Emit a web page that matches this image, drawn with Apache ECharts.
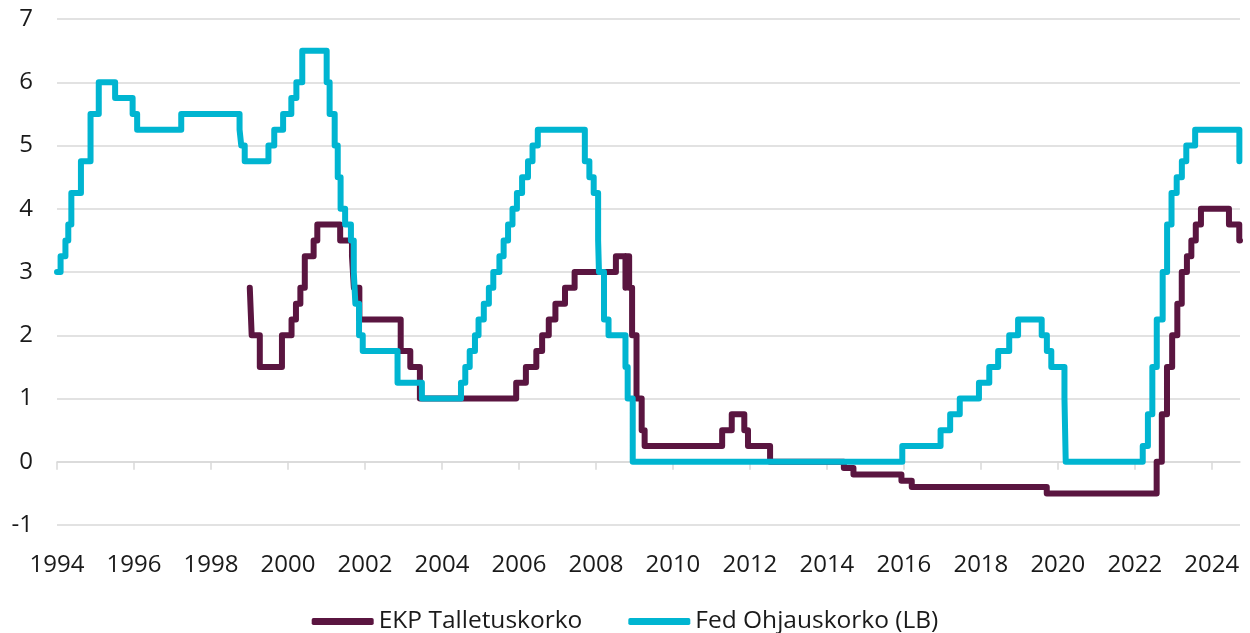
<!DOCTYPE html>
<html lang="fi">
<head>
    <meta charset="UTF-8">
    <title>EKP ja Fed korot</title>
    <script src="https://cdn.jsdelivr.net/npm/echarts@6/dist/echarts.min.js"></script>
    <style>
        html, body { margin: 0; padding: 0; background: #fff; }
        #main { width: 1250px; height: 633px; }
    </style>
</head>
<body>
<div id="main"></div>
<script type="text/javascript">
    // EKP talletuskorko: muutospäivät ja uusi taso
    const ecbDates = ['1999-01-04', '1999-01-22', '1999-04-09', '1999-11-05', '2000-02-04', '2000-03-17',
        '2000-04-28', '2000-06-09', '2000-09-01', '2000-10-06', '2001-05-11', '2001-08-31', '2001-09-18',
        '2001-11-09', '2002-12-06', '2003-03-07', '2003-06-06', '2005-12-06', '2006-03-08', '2006-06-15',
        '2006-08-09', '2006-10-11', '2006-12-13', '2007-03-14', '2007-06-13', '2008-07-09', '2008-10-08',
        '2008-10-09', '2008-11-12', '2008-12-10', '2009-01-21', '2009-03-11', '2009-04-08', '2011-04-13',
        '2011-07-13', '2011-11-09', '2011-12-14', '2012-07-11', '2014-06-11', '2014-09-10', '2015-12-09',
        '2016-03-16', '2019-09-18', '2022-07-27', '2022-09-14', '2022-11-02', '2022-12-21', '2023-02-08',
        '2023-03-22', '2023-05-10', '2023-06-21', '2023-08-02', '2023-09-20', '2024-06-12', '2024-09-18',
        '2024-09-25'];
    const ecbRates = [2.75, 2.00, 1.50, 2.00, 2.25, 2.50,
        2.75, 3.25, 3.50, 3.75, 3.50, 3.25, 2.75,
        2.25, 1.75, 1.50, 1.00, 1.25, 1.50, 1.75,
        2.00, 2.25, 2.50, 2.75, 3.00, 3.25, 2.75,
        3.25, 2.75, 2.00, 1.00, 0.50, 0.25, 0.50,
        0.75, 0.50, 0.25, 0.00, -0.10, -0.20, -0.30,
        -0.40, -0.50, 0.00, 0.75, 1.50, 2.00, 2.50,
        3.00, 3.25, 3.50, 3.75, 4.00, 3.75, 3.50,
        3.50];

    // Fed ohjauskorko (alaraja)
    const fedDates = ['1994-01-01', '1994-02-04', '1994-03-22', '1994-04-18', '1994-05-17', '1994-08-16',
        '1994-11-15', '1995-02-01', '1995-07-06', '1995-12-19', '1996-01-31', '1997-03-25', '1998-09-29',
        '1998-10-15', '1998-11-17', '1999-06-30', '1999-08-24', '1999-11-16', '2000-02-02', '2000-03-21',
        '2000-05-16', '2001-01-03', '2001-01-31', '2001-03-20', '2001-04-18', '2001-05-15', '2001-06-27',
        '2001-08-21', '2001-09-17', '2001-10-02', '2001-11-06', '2001-12-11', '2002-11-06', '2003-06-25',
        '2004-06-30', '2004-08-10', '2004-09-21', '2004-11-10', '2004-12-14', '2005-02-02', '2005-03-22',
        '2005-05-03', '2005-06-30', '2005-08-09', '2005-09-20', '2005-11-01', '2005-12-13', '2006-01-31',
        '2006-03-28', '2006-05-10', '2006-06-29', '2007-09-18', '2007-10-31', '2007-12-11', '2008-01-22',
        '2008-01-30', '2008-03-18', '2008-04-30', '2008-10-08', '2008-10-29', '2008-12-16', '2015-12-17',
        '2016-12-15', '2017-03-16', '2017-06-15', '2017-12-14', '2018-03-22', '2018-06-14', '2018-09-27',
        '2018-12-20', '2019-08-01', '2019-09-19', '2019-10-31', '2020-03-04', '2020-03-16', '2022-03-17',
        '2022-05-05', '2022-06-16', '2022-07-28', '2022-09-22', '2022-11-03', '2022-12-15', '2023-02-02',
        '2023-03-23', '2023-05-04', '2023-07-27', '2024-09-19', '2024-09-25'];
    const fedRates = [3.00, 3.25, 3.50, 3.75, 4.25, 4.75,
        5.50, 6.00, 5.75, 5.50, 5.25, 5.50, 5.25,
        5.00, 4.75, 5.00, 5.25, 5.50, 5.75, 6.00,
        6.50, 6.00, 5.50, 5.00, 4.50, 4.00, 3.75,
        3.50, 3.00, 2.50, 2.00, 1.75, 1.25, 1.00,
        1.25, 1.50, 1.75, 2.00, 2.25, 2.50, 2.75,
        3.00, 3.25, 3.50, 3.75, 4.00, 4.25, 4.50,
        4.75, 5.00, 5.25, 4.75, 4.50, 4.25, 3.50,
        3.00, 2.25, 2.00, 1.50, 1.00, 0.00, 0.25,
        0.50, 0.75, 1.00, 1.25, 1.50, 1.75, 2.00,
        2.25, 2.00, 1.75, 1.50, 1.00, 0.00, 0.25,
        0.75, 1.50, 2.25, 3.00, 3.75, 4.25, 4.50,
        4.75, 5.00, 5.25, 4.75, 4.75];

    const yearTicks = [1994, 1996, 1998, 2000, 2002, 2004, 2006, 2008, 2010, 2012, 2014, 2016, 2018, 2020, 2022, 2024];
    const seriesNames = ['EKP Talletuskorko', 'Fed Ohjauskorko (LB)'];

    function toYear(s) {
        const d = new Date(s + 'T00:00:00Z');
        const y = d.getUTCFullYear();
        const start = Date.UTC(y, 0, 1);
        const end = Date.UTC(y + 1, 0, 1);
        return y + (d.getTime() - start) / (end - start);
    }

    function pairs(dates, values) {
        return dates.map(function (d, i) { return [toYear(d), values[i]]; });
    }

    const xMax = toYear('2024-09-25');
    const font = "'Open Sans', 'Noto Sans', sans-serif";
    const gridColor = '#d9d9d9';
    const textColor = '#1a1a1a';

    let myChart = echarts.init(document.getElementById('main'));
    const option = {
        animation: false,
        backgroundColor: '#fff',
        color: ['#5a1540', '#00b5d1'],
        grid: { left: 57, right: 10, top: 19, bottom: 108 },
        legend: {
            data: seriesNames,
            top: 604,
            left: 'center',
            icon: 'roundRect',
            itemWidth: 62,
            itemHeight: 7,
            itemGap: 46,
            textStyle: { fontFamily: font, fontSize: 24.5, color: textColor }
        },
        xAxis: [{
            type: 'value',
            min: 1994,
            max: xMax,
            interval: 2,
            axisLine: { show: false, onZero: false },
            axisTick: { show: false },
            splitLine: { show: false },
            axisLabel: {
                customValues: yearTicks,
                margin: 28,
                fontFamily: font,
                fontSize: 24,
                color: textColor,
                formatter: function (v) { return String(Math.round(v)); }
            }
        }, {
            type: 'value',
            position: 'bottom',
            min: 1994,
            max: xMax,
            interval: 2,
            axisLine: { show: true, onZero: true, lineStyle: { color: gridColor, width: 1.5 } },
            axisTick: { show: true, customValues: yearTicks, length: 8, lineStyle: { color: gridColor, width: 1.5 } },
            axisLabel: { show: false },
            splitLine: { show: false }
        }],
        yAxis: {
            type: 'value',
            min: -1,
            max: 7,
            interval: 1,
            axisLine: { show: false },
            axisTick: { show: false },
            splitLine: { lineStyle: { color: gridColor, width: 1.5 } },
            axisLabel: {
                margin: 24,
                fontFamily: font,
                fontSize: 24,
                color: textColor
            }
        },
        series: [{
            name: seriesNames[0],
            type: 'line',
            step: 'end',
            showSymbol: false,
            symbol: 'none',
            lineStyle: { width: 6, join: 'round', cap: 'round' },
            data: pairs(ecbDates, ecbRates)
        }, {
            name: seriesNames[1],
            type: 'line',
            step: 'end',
            showSymbol: false,
            symbol: 'none',
            lineStyle: { width: 6, join: 'round', cap: 'round' },
            data: pairs(fedDates, fedRates)
        }]
    };
    myChart.setOption(option);
</script>
</body>
</html>
